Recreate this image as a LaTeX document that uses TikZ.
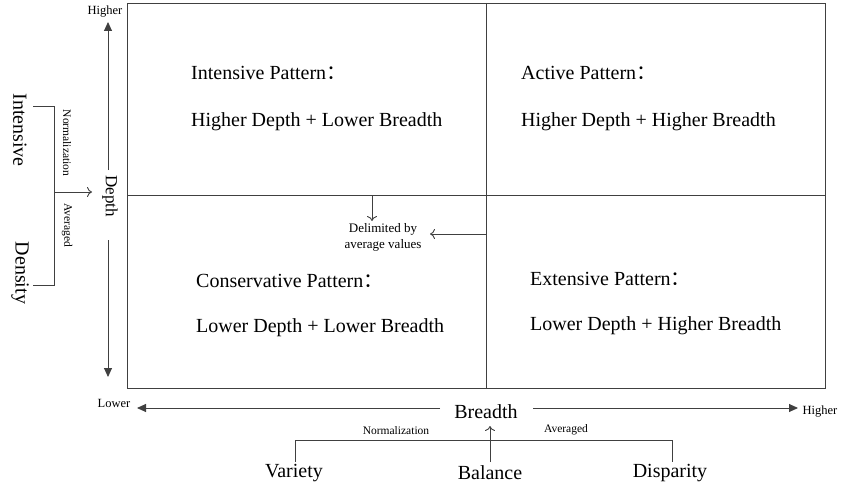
\documentclass[tikz,border=0pt]{standalone}
\usepackage{fontspec}
\setmainfont{Liberation Serif}
\newfontfamily\cjk{Noto Sans CJK SC}
\usetikzlibrary{arrows.meta}
\begin{document}
\begin{tikzpicture}[x=1pt,y=-1pt,
  ln/.style={draw=black!75, line width=0.9pt},
  axisarrow/.style={ln, -{Triangle[length=9pt,width=8pt]}},
  openarrow/.style={ln, -{To[length=5pt,width=10pt]}},
  big/.style={font=\fontsize{20}{23}\selectfont, inner sep=0pt},
  quad/.style={font=\fontsize{20}{23}\selectfont, inner sep=0pt, anchor=west},
  small/.style={font=\fontsize{12.5}{14}\selectfont, inner sep=0pt},
  tiny/.style={font=\fontsize{11.5}{13}\selectfont, inner sep=0pt}]
\useasboundingbox (0,0) rectangle (847,495);
% quadrant frame
\draw[ln] (127,3) rectangle (825,388);
\draw[ln] (127,195) -- (825,195);
\draw[ln] (486,3) -- (486,388);
% quadrant labels
\node[quad] (q1a) at (191,73) {Intensive Pattern{\cjk ：}};
\node[quad] (q1b) at (191,122) {Higher Depth + Lower Breadth};
\node[quad] (q2a) at (521,73) {Active Pattern{\cjk ：}};
\node[quad] (q2b) at (521,122) {Higher Depth + Higher Breadth};
\node[quad] (q3a) at (196,281) {Conservative Pattern{\cjk ：}};
\node[quad] (q3b) at (196,328) {Lower Depth + Lower Breadth};
\node[quad] (q4a) at (530,279) {Extensive Pattern{\cjk ：}};
\node[quad] (q4b) at (530,326) {Lower Depth + Higher Breadth};
% average-value divider note
\node[inner sep=0pt, align=center, font=\fontsize{13}{16}\selectfont] (avg) at (383,237) {Delimited by\\average values};
\coordinate (hmid) at (372,195);
\coordinate (vmid) at (486,234);
\coordinate (avgtop) at (372,221);
\coordinate (avgright) at (430,234);
\draw[openarrow] (hmid) -- (avgtop);
\draw[openarrow] (vmid) -- (avgright);
% depth axis
\node[font=\fontsize{17}{20}\selectfont, inner sep=0pt, rotate=-90] (depth) at (110,196) {Depth};
\node[small] (dhi) at (105,12) {Higher};
\coordinate (dup) at (108,170);
\coordinate (ddown) at (108,240);
\coordinate (dtop) at (108,22);
\coordinate (dbot) at (108,377);
\draw[axisarrow] (dup) -- (dtop);
\draw[axisarrow] (ddown) -- (dbot);
% depth components
\node[big, rotate=-90] (intens) at (20,130) {Intensive};
\node[big, rotate=-90] (dens) at (20,273) {Density};
\node[tiny, rotate=-90] (dnorm) at (67,143) {Normalization};
\node[tiny, rotate=-90] (davg) at (67,225) {Averaged};
\coordinate (bt) at (54,106);
\coordinate (bb) at (54,285);
\coordinate (bmid) at (54,192);
\coordinate (dleft) at (92,192);
\draw[ln] (33,106) -- (bt) -- (bb) -- (33,285);
\draw[openarrow] (bmid) -- (dleft);
% breadth axis
\node[big] (breadth) at (486,412) {Breadth};
\node[small] (blo) at (114,403) {Lower};
\node[small] (bhi) at (820,412) {Higher};
\coordinate (bl) at (440,408);
\coordinate (br) at (533,408);
\coordinate (blend) at (137,408);
\coordinate (brend) at (798,408);
\draw[axisarrow] (bl) -- (blend);
\draw[axisarrow] (br) -- (brend);
% breadth components
\node[big] (var) at (294,473) {Variety};
\node[big] (bal) at (490,473) {Balance};
\node[big] (disp) at (670,473) {Disparity};
\node[tiny] (bnorm) at (396,431) {Normalization};
\node[tiny] (bavg) at (566,430) {Averaged};
\coordinate (vtop) at (295,440);
\coordinate (ptop) at (672,440);
\draw[ln] (295,462) -- (vtop) -- (ptop) -- (672,462);
\coordinate (balfoot) at (490,462);
\coordinate (baltip) at (490,426);
\draw[openarrow] (balfoot) -- (baltip);
\end{tikzpicture}
\end{document}
